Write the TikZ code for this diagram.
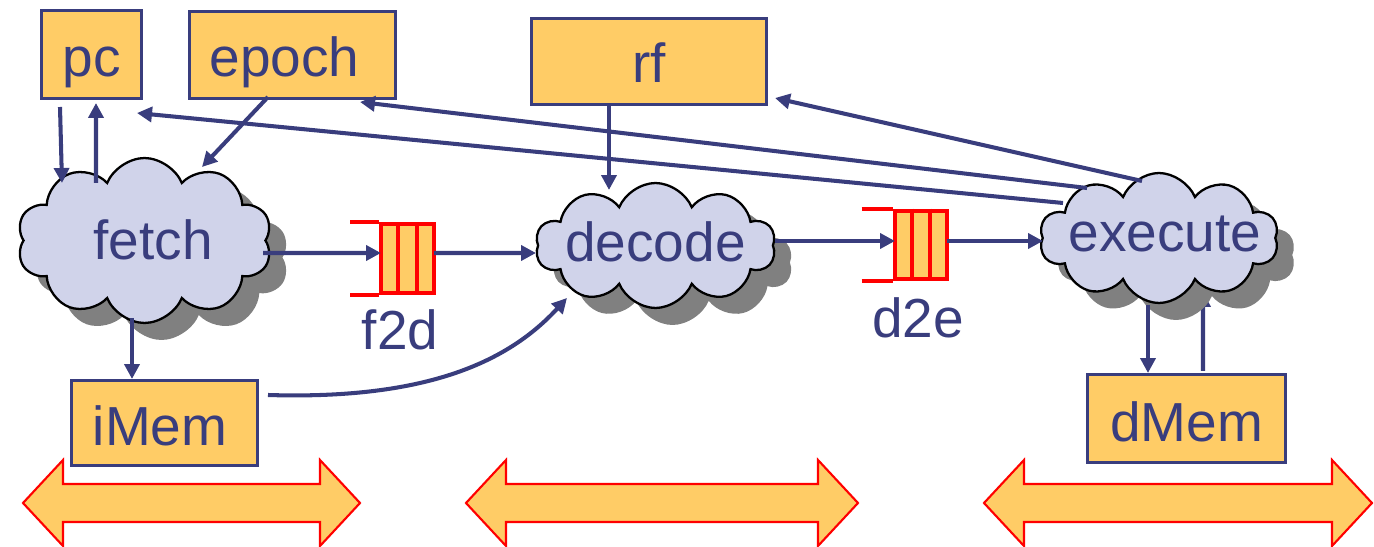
\documentclass[tikz,border=0pt]{standalone}
\usepackage{fontspec}
\setmainfont{Liberation Sans}
\usetikzlibrary{shapes.symbols,shadows,calc,arrows.meta,backgrounds}
\definecolor{navy}{RGB}{57,61,125}
\definecolor{boxfill}{RGB}{255,204,102}
\definecolor{cloudfill}{RGB}{208,211,234}
\definecolor{fifored}{RGB}{255,0,0}
\begin{document}
\begin{tikzpicture}[x=0.02cm,y=-0.02cm,
  font=\fontsize{31.3}{36}\selectfont, text=navy,
  boxst/.style={draw=navy, line width=2.1pt, fill=boxfill, inner sep=0pt, text depth=0pt},
  cloudst/.style={shape=cloud, cloud puffs=10, cloud puff arc=135, draw=black, line width=1.3pt,
     fill=cloudfill, inner sep=0pt, text depth=0pt,
     drop shadow={shadow xshift=0.34cm, shadow yshift=-0.34cm, fill=black!50, opacity=1}},
  fifost/.style={fill=boxfill, draw=fifored, line width=2.3pt, inner sep=0pt,
     minimum width=1.05cm, minimum height=1.37cm},
  fifoline/.style={draw=fifored, line width=2.3pt},
  conn/.style={draw=navy, line width=2.3pt, -{Triangle[length=0.3cm,width=0.3cm]}},
  bigarrow/.style={draw=fifored, line width=1.2pt, fill=boxfill, line join=miter},
  lbl/.style={anchor=base, inner sep=0pt}]
\useasboundingbox (0,0) rectangle (1374,547);

% register boxes
\node[boxst, minimum width=2cm, minimum height=1.76cm, text height=0.9cm] (pc) at (91.5,54.5) {\makebox[0pt]{pc}};
\node[boxst, minimum width=4.12cm, minimum height=1.74cm, text height=0.88cm] (epoch) at (292.5,55) {\makebox[0pt]{epoch\hspace*{0.32cm}}};
\node[boxst, minimum width=4.7cm, minimum height=1.72cm, text height=0.86cm] (rf) at (649,61.5) {\makebox[0pt]{rf}};
\node[boxst, minimum width=3.72cm, minimum height=1.7cm, text height=0.92cm] (iMem) at (164.5,423) {\makebox[0pt]{iMem\hspace*{0.18cm}}};
\node[boxst, minimum width=3.96cm, minimum height=1.76cm, text height=0.94cm] (dMem) at (1186.5,418.5) {\makebox[0pt]{dMem}};

% clouds
\node[cloudst, minimum width=5.1cm, minimum height=3.3cm, text height=0.78cm] (fetch) at (144.5,240.5) {\makebox[0pt]{\hspace*{0.34cm}fetch}};
\node[cloudst, minimum width=4.8cm, minimum height=2.5cm, text height=0.66cm] (decode) at (655.5,245.5) {\makebox[0pt]{decode}};
\node[cloudst, minimum width=4.78cm, minimum height=2.6cm, text height=0.56cm] (execute) at (1159,238) {\makebox[0pt]{\hspace*{0.24cm}execute}};

% FIFOs
\node[fifost] (f2d) at (407.5,258.5) {};
\draw[fifoline] ($(f2d.north west)+(-29,0)$) -- (f2d.north west);
\draw[fifoline] ($(f2d.south west)+(-29,0)$) -- (f2d.south west);
\draw[fifoline] ($(f2d.north west)!1/3!(f2d.north east)$) -- ($(f2d.south west)!1/3!(f2d.south east)$);
\draw[fifoline] ($(f2d.north west)!2/3!(f2d.north east)$) -- ($(f2d.south west)!2/3!(f2d.south east)$);
\node[lbl] (f2dlabel) at (400,350) {f2d};

\node[fifost] (d2e) at (921,245) {};
\draw[fifoline] ($(d2e.north west)+(-31,0)$) -- (d2e.north west);
\draw[fifoline] ($(d2e.south west)+(-31,0)$) -- (d2e.south west);
\draw[fifoline] ($(d2e.north west)!1/3!(d2e.north east)$) -- ($(d2e.south west)!1/3!(d2e.south east)$);
\draw[fifoline] ($(d2e.north west)!2/3!(d2e.north east)$) -- ($(d2e.south west)!2/3!(d2e.south east)$);
\node[lbl] (d2elabel) at (918,338) {d2e};

% connectors
\draw[conn] ($(pc.center)+(-31.5,52.5)$) -- ($(fetch.center)+(-82.5,-57.5)$);
\draw[conn] ($(fetch.center)+(-48.5,-57.5)$) -- ($(pc.center)+(4.5,48.5)$);
\draw[conn] ($(epoch.center)+(-24.5,42)$) -- ($(fetch.center)+(57.5,-73.5)$);
\draw[conn] ($(execute.center)+(-96,-35)$) -- ($(pc.center)+(45.5,58.5)$);
\draw[conn] ($(execute.center)+(-72,-50)$) -- ($(epoch.center)+(67.5,47)$);
\draw[conn] ($(execute.center)+(-17,-57)$) -- ($(rf.center)+(126,36.5)$);
\draw[conn] ($(rf.center)+(-40,44.5)$) -- ($(decode.center)+(-46.5,-55.5)$);
\draw[conn] ($(fetch.center)+(118.5,12.5)$) -- ($(f2d.center)+(-26.5,-5.5)$);
\draw[conn] ($(f2d.center)+(26.5,-5.5)$) -- ($(decode.center)+(-119.5,7.5)$);
\draw[conn] ($(decode.center)+(119.5,-4.5)$) -- ($(d2e.center)+(-26,-4)$);
\draw[conn] ($(d2e.center)+(26,-4)$) -- ($(execute.center)+(-116,3)$);
\draw[conn] ($(fetch.center)+(-12.5,77.5)$) -- ($(iMem.center)+(-32.5,-44)$);
\draw[conn] ($(iMem.center)+(103.5,-28)$) .. controls (430,400) and (510,360) .. ($(decode.center)+(-88.5,52.5)$);
\draw[conn] ($(execute.center)+(-11,67)$) -- ($(dMem.center)+(-38.5,-45.5)$);
\begin{pgfonlayer}{background}
\draw[conn] ($(dMem.center)+(16.5,-47.5)$) -- ($(execute.center)+(44,54)$);
\end{pgfonlayer}

% stage arrows
\draw[bigarrow] (23,503) -- (63,460) -- (63,484) -- (320,484) -- (320,460) -- (360,503) -- (320,546) -- (320,522) -- (63,522) -- (63,546) -- cycle;
\draw[bigarrow] (466,503) -- (506,460) -- (506,484) -- (818,484) -- (818,460) -- (858,503) -- (818,546) -- (818,522) -- (506,522) -- (506,546) -- cycle;
\draw[bigarrow] (984,503) -- (1024,460) -- (1024,484) -- (1332,484) -- (1332,460) -- (1372,503) -- (1332,546) -- (1332,522) -- (1024,522) -- (1024,546) -- cycle;
\end{tikzpicture}
\end{document}
